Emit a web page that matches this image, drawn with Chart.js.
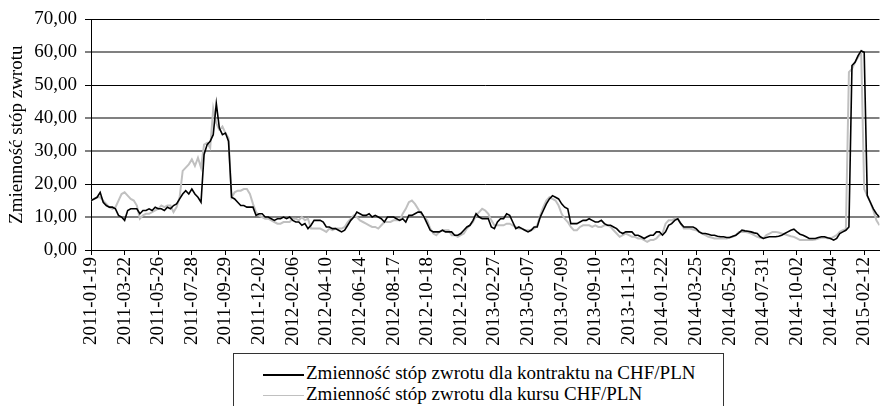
<!DOCTYPE html>
<html>
<head>
<meta charset="utf-8">
<script src="https://cdn.jsdelivr.net/npm/chart.js@4/dist/chart.umd.min.js"></script>
<style>
  html, body { margin: 0; padding: 0; background: #fff; overflow: hidden; }
  #wrap { position: relative; width: 889px; height: 406px; overflow: hidden; }
  #legend { position: absolute; left: 233px; top: 353px; width: 489px; height: 70px;
            border: 1px solid #333; background: #fff; font-family: "Liberation Serif", "Times New Roman", serif;
            font-size: 19px; color: #000; }
  .item { position: absolute; left: 29px; height: 22px; line-height: 22px; white-space: nowrap; }
  .swatch { display: inline-block; width: 41px; vertical-align: middle; margin-right: 2px; }
</style>
</head>
<body>
<div id="wrap">
  <canvas id="c" width="889" height="406"></canvas>
  <div id="legend"></div>
</div>
<script>
// Tick labels shown every 11th sample (each sample = ~4 trading days)
const tickLabels = [
  "2011-01-19","2011-03-22","2011-05-26","2011-07-28","2011-09-29","2011-12-02",
  "2012-02-06","2012-04-10","2012-06-14","2012-08-17","2012-10-18","2012-12-20",
  "2013-02-27","2013-05-07","2013-07-09","2013-09-10","2013-11-13","2014-01-22",
  "2014-03-25","2014-05-29","2014-07-31","2014-10-02","2014-12-04","2015-02-12"
];
const seriesNames = [
  "Zmienność stóp zwrotu dla kontraktu na CHF/PLN",
  "Zmienność stóp zwrotu dla kursu CHF/PLN"
];
// Volatility of returns – futures contract (black)
const contract = [
  15,15.5,16,17.5,14.5,13.5,13,13,12.5,10.5,
  10,9,12,12.5,12.5,12.5,11,12,12,12.5,
  12,13,12.5,12.5,12,13,12.5,13.5,14,15.5,
  17,18,17,18.5,17,16,14.5,29,32,33,
  35,44.5,37,35,35.5,33,16,15.5,14.5,13.5,
  13.5,13,13,13,10.5,11,11,10,10,9.5,
  9,9.5,9.5,10,
  9.5,10,9,8.5,8.5,7.5,
  8,6.5,7.5,9,9,9,8.5,7,7,6.5,
  6.5,6,5.5,6,7.5,9,10,11.5,11,10.5,
  10.5,11,10,10.5,10,9.5,8.5,10,10,10,
  9.5,9,9.5,8.5,10.5,10.5,11,11.5,11.5,10,
  8,6,5.5,5.5,5.5,6,5.5,5.5,5.5,4.5,
  4.5,5,6,7,7.5,9,11,10,9.5,
  9.5,9.5,7,6.5,8.5,9.5,9.5,11,10.5,8.5,
  6.5,7,6.5,6,5.5,6,7,7,10,12,
  14,15.5,16.5,16,15.5,14,13,12.5,8,8,
  8,8.5,9,9,9.5,9,8.5,8.5,9,8,
  7.5,7.5,7,6.5,5.5,5,5.5,5.5,5.5,4.5,
  4.5,4,3.5,4,4.5,4.5,5.5,5.5,4.5,5.5,
  7.5,8,9,9.5,8,
  7,7,7,7,6.5,5.5,5,5,4.8,4.5,
  4.5,4.2,4,4,3.8,3.8,4.2,4.5,5.2,6,
  5.8,5.7,5.5,5.2,5,4,3.5,3.8,4,4,
  4,4.2,4.5,5,5.5,6,6.3,5.5,4.8,4.5,
  4,3.5,3.5,3.5,3.8,4,4,3.7,3.5,3,
  3.5,5,5.5,6,7,56,57,59,60.5,60,
  16.5,14.5,12.5,11,10
];
// Volatility of returns – spot rate (grey)
const spot = [
  15,15.5,16,16,15,14,13,12.5,13,15,
  17,17.5,16.5,15.5,15,13.5,9.5,10.5,11,11,
  11.5,12,12.5,13.5,13,13.5,13.5,11.5,13,16,
  24,25,26,27.5,25.5,28,25,32,32.5,31,
  43,38.5,36.5,37.5,35.5,34,16,17.5,18,18,
  18.5,18.5,17,14,11.5,10.5,10,9.5,9.5,9,
  8.5,8,8,8.5,
  8.5,8.5,9.5,9.5,9,10,
  9,9.5,6.5,6.5,6.5,6.5,6,5.5,6.5,6,
  6.5,6.5,6.5,7,8.5,9.5,10.5,10,9,8.5,
  8,7.5,7,7,6.5,7.5,8.5,8.5,8.5,9,
  9,9,11,12.5,14.5,15,14,12.5,11,10,
  9,6.5,5,4.5,5.5,6,6,6,4.5,4.5,
  4,4.5,5,6.5,7.5,8.5,10.5,11.5,12.5,
  12,11,9,7.5,7.5,7.5,7.5,8,8,7.5,
  7,6.5,6.5,6,6,6,6.5,7.5,10.5,13,
  15,16,15.5,15,13.5,11,9.5,8.5,7,6,
  6,7,7.5,7.5,7.5,7,7.5,7,7,7.5,
  7.5,7,6,5,4,4.5,5,4.5,4,4,
  3.5,3.5,3,2.5,3,3,3.5,4.5,5,8,
  9,9,9.5,9.5,8,
  6.5,6.5,6.5,6.2,6,5.5,5,4.5,4,3.8,
  3.5,3.5,3.5,3.5,3.5,3.8,4,4.5,5.5,5.5,
  5.5,5.3,5,4.5,4,3.7,3.5,4.5,5,5.5,
  5.5,5.3,5,4.8,4.5,4.2,4,3.5,3,3,
  3,3,3,3.2,3.5,3.7,3.8,3.6,3.5,4,
  4.5,5.5,6,6.3,54,55,57,58.5,60,18.5,
  16.5,14.5,12,9,7.5
];
const yTicks = [0,10,20,30,40,50,60,70];
const LABEL_EVERY = 11;

const FONT = "'Liberation Serif', 'Times New Roman', serif";
const strongLines = [0, 20, 50, 70];

const chart = new Chart(document.getElementById('c'), {
  type: 'line',
  data: {
    labels: contract.map((_, i) => i),
    datasets: [
      { label: seriesNames[0], data: contract, borderColor: '#000000', borderWidth: 1.6,
        pointRadius: 0, tension: 0, fill: false },
      { label: seriesNames[1], data: spot, borderColor: '#c0c0c0', borderWidth: 2,
        pointRadius: 0, tension: 0, fill: false }
    ]
  },
  options: {
    responsive: false,
    animation: false,
    devicePixelRatio: 1,
    layout: { padding: { top: 17, right: 0, bottom: 0, left: 0 } },
    plugins: { legend: { display: false }, tooltip: { enabled: false } },
    scales: {
      x: {
        type: 'linear',
        min: 0,
        max: contract.length - 1,
        afterFit: (s) => { s.height = 156; },
        grid: { drawOnChartArea: false, drawTicks: true, tickLength: 5, color: '#000', lineWidth: 1 },
        border: { display: true, color: '#000', width: 1 },
        ticks: {
          stepSize: LABEL_EVERY,
          includeBounds: false,
          autoSkip: false,
          minRotation: 90, maxRotation: 90,
          padding: 2,
          color: '#000',
          font: { family: FONT, size: 19 },
          callback: (v) => (v % LABEL_EVERY === 0 ? tickLabels[v / LABEL_EVERY] : null)
        }
      },
      y: {
        min: yTicks[0],
        max: yTicks[yTicks.length - 1],
        afterFit: (s) => { s.width = 91; },
        grid: {
          drawTicks: true, tickLength: 6,
          color: (ctx) => strongLines.includes(ctx.tick.value) ? '#000' : '#808080',
          lineWidth: (ctx) => strongLines.includes(ctx.tick.value) ? 1 : 2
        },
        border: { display: true, color: '#000', width: 1 },
        ticks: {
          stepSize: 10,
          padding: 8,
          color: '#000',
          font: { family: FONT, size: 19 },
          callback: (v) => v.toFixed(2).replace('.', ',')
        },
        title: {
          display: true,
          text: 'Zmienność stóp zwrotu',
          color: '#000',
          font: { family: FONT, size: 19 },
          padding: { top: 6, bottom: 4 }
        }
      }
    }
  }
});

// HTML legend built from the chart's datasets
const legendEl = document.getElementById('legend');
chart.data.datasets.forEach((ds, i) => {
  const row = document.createElement('div');
  row.className = 'item';
  row.style.top = (8 + i * 21) + 'px';
  const sw = document.createElement('span');
  sw.className = 'swatch';
  sw.style.borderTop = (i === 0 ? 2 : 1.5) + 'px solid ' + ds.borderColor;
  row.appendChild(sw);
  row.appendChild(document.createTextNode(ds.label));
  legendEl.appendChild(row);
});
</script>
</body>
</html>
